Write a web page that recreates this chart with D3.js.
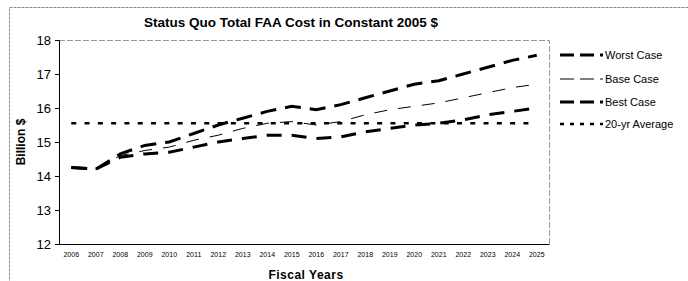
<!DOCTYPE html>
<html><head><meta charset="utf-8">
<script src="https://cdn.jsdelivr.net/npm/d3@7"></script>
<style>body{margin:0;background:#fff;}svg{display:block;font-family:Arial,"Liberation Sans",sans-serif;}</style>
</head><body>
<svg id="c" width="688" height="281"></svg>
<script>
const years = ["2006","2007","2008","2009","2010","2011","2012","2013","2014","2015","2016","2017","2018","2019","2020","2021","2022","2023","2024","2025"];
const worstCase = [14.25,14.2,14.65,14.9,15.0,15.25,15.5,15.7,15.9,16.05,15.95,16.1,16.3,16.5,16.7,16.8,17.0,17.2,17.4,17.55];
const baseCase  = [14.25,14.2,14.6,14.75,14.85,15.05,15.2,15.4,15.55,15.6,15.5,15.6,15.8,15.95,16.05,16.15,16.3,16.45,16.6,16.7];
const bestCase  = [14.25,14.2,14.55,14.65,14.7,14.85,15.0,15.1,15.2,15.2,15.1,15.15,15.3,15.4,15.5,15.55,15.65,15.8,15.9,16.0];
const avg20 = [15.55,15.55,15.55,15.55,15.55,15.55,15.55,15.55,15.55,15.55,15.55,15.55,15.55,15.55,15.55,15.55,15.55,15.55,15.55,15.55];
const yTicks = [12,13,14,15,16,17,18];
const seriesNames = ["Worst Case","Base Case","Best Case","20-yr Average"];

const svg = d3.select("#c");
const L=59,R=549,T=40,B=244;
const x = d3.scaleBand().domain(years).range([L,R]);
const y = d3.scaleLinear().domain([12,18]).range([B,T]);

// outer border
svg.append("rect").attr("x",9.5).attr("y",7.5).attr("width",690).attr("height",290)
  .attr("fill","none").attr("stroke","#888").attr("stroke-width",1).attr("stroke-dasharray","3,1");

// plot border (top/right)
svg.append("path").attr("d",`M${L},${T+0.5}H${R+0.5}V${B}`).attr("fill","none")
  .attr("stroke","#999").attr("stroke-width",1).attr("stroke-dasharray","6,2");

// title
svg.append("text").attr("x",291).attr("y",27).attr("text-anchor","middle")
  .attr("font-weight","bold").attr("font-size","13.5px").text("Status Quo Total FAA Cost in Constant 2005 $");

// y axis
const ya = svg.append("g").attr("transform",`translate(${L},0)`)
  .call(d3.axisLeft(y).tickValues(yTicks).tickSize(4).tickPadding(4).tickFormat(d3.format("d")));
ya.selectAll("text").attr("font-size","13px").attr("fill","#000").attr("font-family","Arial,'Liberation Sans',sans-serif");
ya.selectAll("line,path").attr("stroke","#000");

// x axis
const xa = svg.append("g").attr("transform",`translate(0,${B})`)
  .call(d3.axisBottom(x).tickSize(0).tickPadding(8));
xa.selectAll("text").attr("font-size","7px").attr("fill","#000").attr("font-family","Arial,'Liberation Sans',sans-serif");
xa.selectAll("path").attr("stroke","#000");

svg.append("text").attr("transform","translate(25,142) rotate(-90)").attr("text-anchor","middle")
  .attr("font-weight","bold").attr("font-size","12px").text("Billion $");
svg.append("text").attr("x",306).attr("y",279).attr("text-anchor","middle")
  .attr("font-weight","bold").attr("font-size","12px").attr("letter-spacing","0.5px").text("Fiscal Years");

const styles = [
  {w:3,dash:"16,9"},
  {w:1,dash:"13,11"},
  {w:3,dash:"15,10"},
  {w:2.5,dash:"5,8.3"}
];
const data = [worstCase,baseCase,bestCase,avg20];
const line = d3.line().x((d,i)=>x(years[i])+x.bandwidth()/2).y(d=>y(d));
data.forEach((s,k)=>{
  svg.append("path").datum(s).attr("d",line).attr("fill","none").attr("stroke","#000")
    .attr("stroke-width",styles[k].w).attr("stroke-dasharray",styles[k].dash);
});

// legend
const legY = [55,79,102,124];
seriesNames.forEach((n,k)=>{
  const st = styles[k];
  svg.append("line").attr("x1",560).attr("x2",603).attr("y1",legY[k]).attr("y2",legY[k])
    .attr("stroke","#000").attr("stroke-width",st.w)
    .attr("stroke-dasharray", k===3 ? "4,6" : "14,6");
  svg.append("text").attr("x",605).attr("y",legY[k]+4).attr("font-size","11px").text(n);
});
</script>
</body></html>
